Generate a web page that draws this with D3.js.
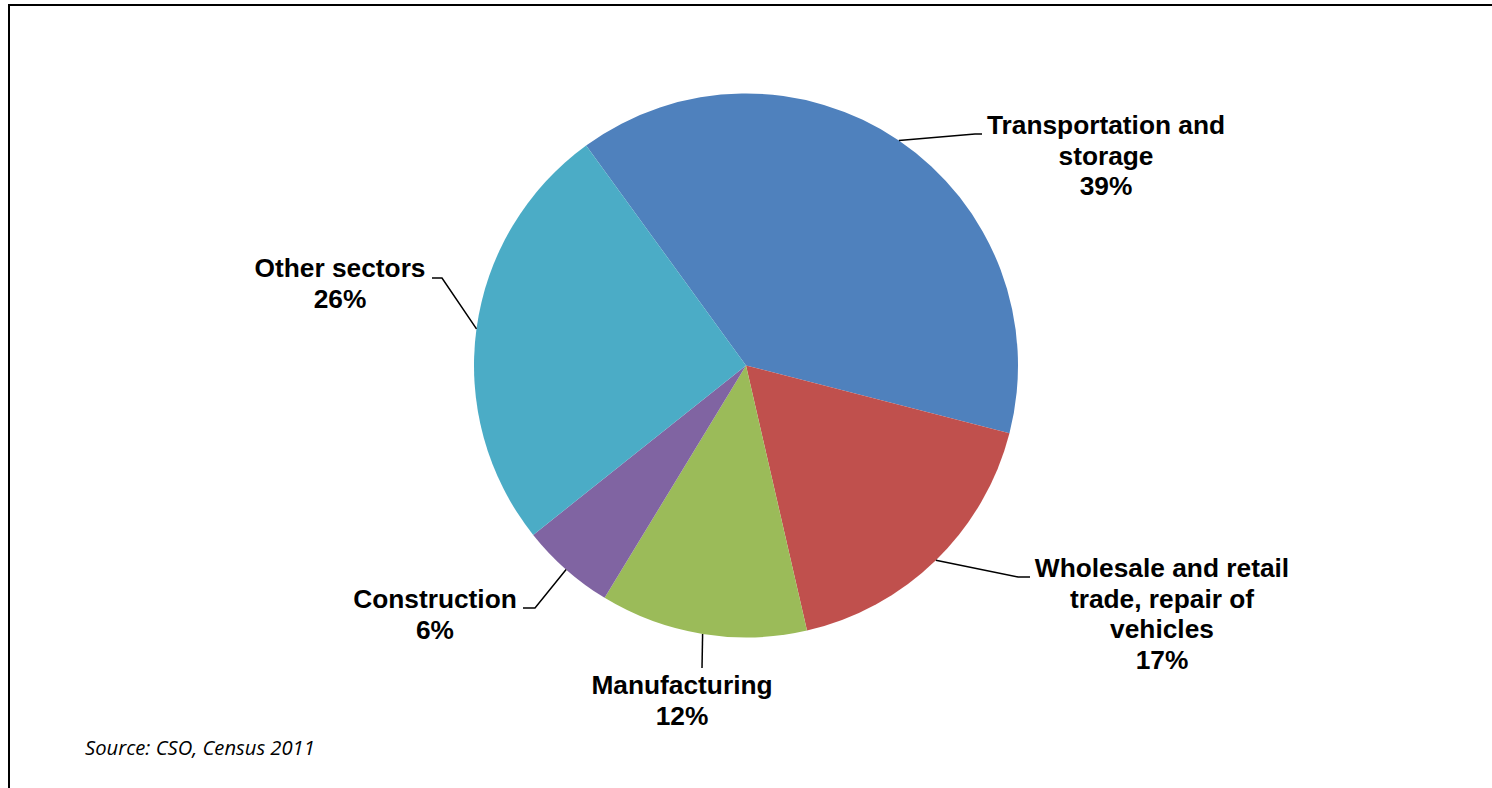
<!DOCTYPE html>
<html>
<head>
<meta charset="utf-8">
<script src="https://cdn.jsdelivr.net/npm/d3@7"></script>
<style>
  html, body { margin: 0; padding: 0; background: #fff; }
  svg { display: block; }
</style>
</head>
<body>
<svg id="chart" width="1492" height="788"></svg>
<script>
// ---- data ----
const categories = ["Transportation and storage", "Wholesale and retail trade, repair of vehicles", "Manufacturing", "Construction", "Other sectors"];
const values = [39.0, 17.4, 12.3, 5.6, 25.7];
const percentLabels = ["39%", "17%", "12%", "6%", "26%"];
const labelLines = [
  ["Transportation and", "storage"],
  ["Wholesale and retail", "trade, repair of", "vehicles"],
  ["Manufacturing"],
  ["Construction"],
  ["Other sectors"]
];
const colors = ["#4F81BD", "#C0504D", "#9BBB59", "#8064A2", "#4BACC6"];
const sourceText = "Source: CSO, Census 2011";

// ---- layout (positions, not data) ----
const W = 1492, H = 788;
const cx = 746, cy = 365.5, R = 272;
const startDeg = -36;
const lineH = 30.5;
// label anchor: text centre x, first baseline y; leader path bend & end points
const labelLayout = [
  { x: 1106, y: 134, bend: [975, 134], end: [982, 134] },
  { x: 1162, y: 577, bend: [1018, 577], end: [1030, 577] },
  { x: 682, y: 694, bend: [702, 668], end: [702, 668] },
  { x: 435, y: 608, bend: [535, 608], end: [523, 608] },
  { x: 340, y: 277, bend: [442, 278], end: [432, 278] }
];

const svg = d3.select("#chart");

// border (top & left visible)
svg.append("path")
  .attr("d", `M9,${H + 2} L9,5 L${W + 2},5`)
  .attr("fill", "none")
  .attr("stroke", "#000")
  .attr("stroke-width", 2);

const data = categories.map((c, i) => ({ cat: c, value: values[i], i }));

const pie = d3.pie()
  .value(d => d.value)
  .sort(null)
  .startAngle(startDeg * Math.PI / 180)
  .endAngle((startDeg + 360) * Math.PI / 180);

const arcs = pie(data);
const arc = d3.arc().innerRadius(0).outerRadius(R);

const g = svg.append("g").attr("transform", `translate(${cx},${cy})`);

g.selectAll("path.slice")
  .data(arcs)
  .join("path")
  .attr("class", "slice")
  .attr("d", arc)
  .attr("fill", d => colors[d.data.i]);

// leader lines
arcs.forEach(a => {
  const L = labelLayout[a.data.i];
  const mid = (a.startAngle + a.endAngle) / 2;
  const px = cx + R * Math.sin(mid);
  const py = cy - R * Math.cos(mid);
  svg.append("path")
    .attr("d", `M${px},${py} L${L.bend[0]},${L.bend[1]} L${L.end[0]},${L.end[1]}`)
    .attr("fill", "none")
    .attr("stroke", "#000")
    .attr("stroke-width", 1.5);
});

// labels
arcs.forEach(a => {
  const i = a.data.i;
  const L = labelLayout[i];
  const lines = labelLines[i].concat([percentLabels[i]]);
  const t = svg.append("text")
    .attr("text-anchor", "middle")
    .attr("font-family", "Liberation Sans, Arial, sans-serif")
    .attr("font-weight", "bold")
    .attr("font-size", 26.3)
    .attr("fill", "#000");
  lines.forEach((ln, k) => {
    t.append("tspan")
      .attr("x", L.x)
      .attr("y", L.y + k * lineH)
      .text(ln);
  });
});

// source
svg.append("text")
  .attr("x", 85)
  .attr("y", 755)
  .attr("font-family", "Open Sans, Liberation Sans, sans-serif")
  .attr("font-style", "italic")
  .attr("font-size", 20.2)
  .attr("fill", "#000")
  .text(sourceText);
</script>
</body>
</html>
